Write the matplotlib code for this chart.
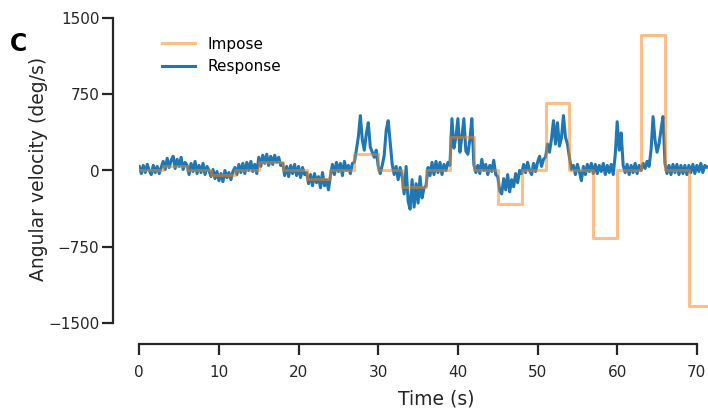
import numpy as np
import matplotlib
matplotlib.use("Agg")
import matplotlib.pyplot as plt

# Imposed angular velocity: step edges (s) and step values (deg/s)
impose_edges = [0, 3, 6, 9, 12, 15, 18, 21, 24, 27, 30, 33, 36, 39, 42, 45,
                48, 51, 54, 57, 60, 63, 66, 69, 71.5]
impose_values = [0, 42, 0, -42, 0, 83, 0, -83, 0, 167, 0, -167, 0, 333, 0, -333,
                 0, 667, 0, -667, 0, 1333, 0, -1333]

# Measured response, sampled every 0.25 s from t = 0
resp_dt = 0.25
response = [
    40, -30, 50, -20, 60, 0, -40, 50, -20, 40, -30, 30,
    90, 10, 120, 30, 100, 140, 20, 110, 40, 130, 10, 80,
    50, -40, 70, -10, 90, -30, 50, -20, 70, -40, 40, 0,
    -60, 10, -80, -10, -100, -30, -110, 0, -70, -20, -90, -10,
    30, -40, 60, -20, 70, -30, 80, 0, 90, -10, 60, -30,
    130, 40, 150, 70, 160, 50, 140, 60, 150, 80, 130, 50,
    70, -50, 40, -60, 50, -30, 60, -50, 40, -70, 30, -40,
    -20, -130, -40, -150, -30, -120, -60, -170, -20, -150, -90, -190,
    -50, 60, -40, 80, -10, 70, -50, 90, 0, 50, -30, 70,
    80, 200, 330, 540, 300, 200, 360, 470, 230, 180, 130, 200,
    40, -30, 50, 150, 400, 490, 280, 60, -40, 40, -90, 30,
    -60, -230, 40, -300, -380, -90, -360, -130, -320, -60, -270, -170,
    -150, 30, -50, 80, -40, 90, -20, 80, -40, 60, 0, 80,
    50, 510, 220, 330, 510, 180, 330, 510, 190, 160, 300, 510,
    60, -20, 50, -30, 110, 0, 60, -40, 50, -10, 100, -40,
    -60, -200, -230, -80, -190, -40, -210, -90, -160, -30, -120, 0,
    -30, 60, -20, 80, 0, -40, 70, -10, 80, 140, 40, 110,
    130, 260, 180, 310, 490, 260, 470, 240, 320, 540, 330, 260,
    130, 10, 50, -40, 60, -10, -100, 40, -40, 60, -10, 70,
    -30, 60, -30, 50, -10, 70, -40, 50, -20, 60, -40, 150,
    480, 200, 370, 50, -20, 60, -40, 50, -20, 70, -30, 50,
    0, 70, 20, 90, 40, 200, 530, 300, 180, 260, 400, 530,
    70, -30, 50, -40, 60, -20, 60, -40, 50, -30, 50, -40,
    50, -20, 60, -30, 50, -10, 70, -20, 50, 30, 40,
]

x_ticks = [0, 10, 20, 30, 40, 50, 60, 70]
y_ticks = [-1500, -750, 0, 750, 1500]
y_ticklabels = ["\u22121500", "\u2212750", "0", "750", "1500"]

W, H = 708, 411
fig = plt.figure(figsize=(W / 100, H / 100), dpi=100)
ax = fig.add_axes([139.3 / W, 1 - 323 / H, (708 - 139.3) / W, (323 - 18) / H])

t = np.arange(len(response)) * resp_dt
ax.plot(t, response, color="#1f77b4", lw=2.2, label="Response", zorder=2)
ax.step(impose_edges, impose_values + [impose_values[-1]], where="post",
        color="#ff7f0e", alpha=0.5, lw=2.2, label="Impose", zorder=3)

ax.set_xlim(0, 71.4)
ax.set_ylim(-1500, 1500)
ax.set_xticks(x_ticks)
ax.set_yticks(y_ticks)
ax.set_yticklabels(y_ticklabels)

for s in ["top", "right"]:
    ax.spines[s].set_visible(False)
ax.spines["left"].set_position(("outward", 26 * 0.72))
ax.spines["bottom"].set_position(("outward", 21 * 0.72))
ax.spines["left"].set_bounds(-1500, 1500)
ax.spines["bottom"].set_bounds(0, 70)
for s in ["left", "bottom"]:
    ax.spines[s].set_linewidth(1.6)
    ax.spines[s].set_color("#262626")
ax.tick_params(axis="both", length=8, width=1.6, color="#262626",
               labelsize=11, labelcolor="#262626")
ax.tick_params(axis="x", pad=7)
ax.tick_params(axis="y", pad=2)

ax.set_xlabel("Time (s)", fontsize=13.5, color="#262626")
ax.set_ylabel("Angular velocity (deg/s)", fontsize=13.5, color="#262626")
ax.xaxis.set_label_coords(436.5 / W, 1 - 389 / H, transform=fig.transFigure)
ax.yaxis.set_label_coords(48 / W, 1 - 169 / H, transform=fig.transFigure)

handles, labels = ax.get_legend_handles_labels()
ax.legend(handles[::-1], labels[::-1], loc="upper left", frameon=False,
          fontsize=11, handlelength=2.2,
          bbox_to_anchor=(148 / W, 1 - 23 / H), bbox_transform=fig.transFigure)

fig.text(10 / W, 1 - 44 / H, "C", fontsize=17, fontweight="bold",
         va="center", ha="left")

fig.savefig("out.png", dpi=100)
